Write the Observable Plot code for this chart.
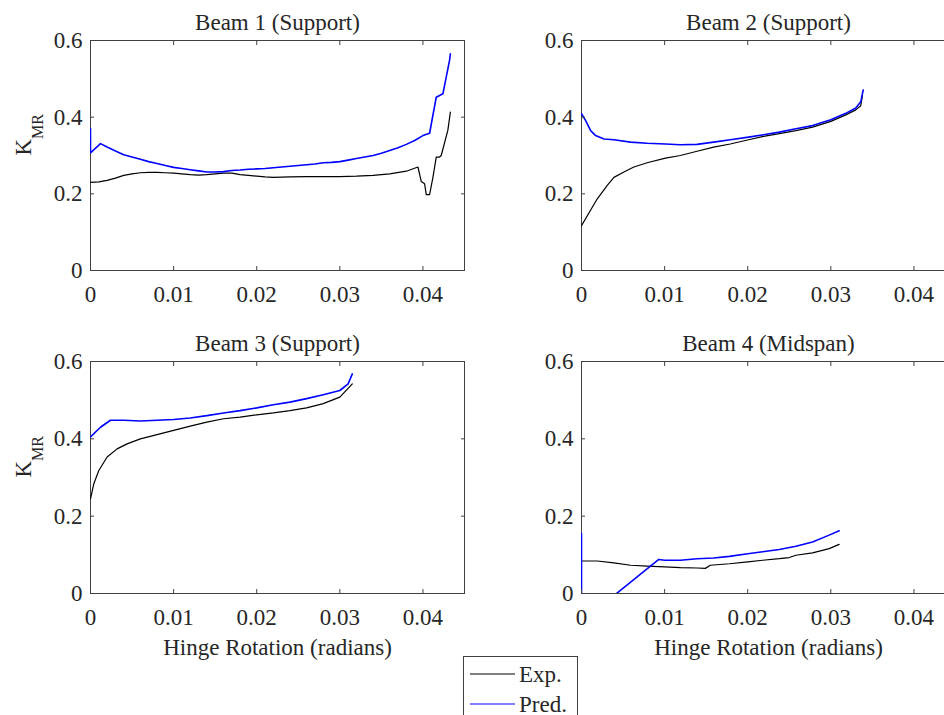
<!DOCTYPE html>
<html><head><meta charset="utf-8">
<script src="https://cdn.jsdelivr.net/npm/d3@7"></script>
<script src="https://cdn.jsdelivr.net/npm/@observablehq/plot@0.6"></script>
<style>
html,body{margin:0;padding:0;background:#fff;overflow:hidden;}
#wrap{position:relative;width:944px;height:715px;overflow:hidden;font-family:"Liberation Serif","Times New Roman",serif;color:#262626;}
.panel{position:absolute;}
.panel text{font-family:"Liberation Serif","Times New Roman",serif;}
#legend{position:absolute;left:463px;top:656px;width:113px;height:70px;border:1px solid #404040;background:#fff;z-index:5;}
</style></head><body><div id="wrap"></div>
<script>
// ---- data ----
const titles = ["Beam 1 (Support)", "Beam 2 (Support)", "Beam 3 (Support)", "Beam 4 (Midspan)"];
const xTicks = [0, 0.01, 0.02, 0.03, 0.04];
const yTicks = [0, 0.2, 0.4, 0.6];
const xLabel = "Hinge Rotation (radians)";
const yLabelMain = "K";
const yLabelSub = "MR";
const seriesNames = ["Exp.", "Pred."];
const seriesColors = ["#000000", "#0000ff"];

const beam1Exp = [[0,0.230],[0.001,0.231],[0.002,0.235],[0.003,0.241],[0.004,0.248],[0.005,0.252],[0.006,0.255],[0.007,0.256],[0.008,0.256],[0.009,0.255],[0.010,0.254],[0.011,0.252],[0.012,0.250],[0.013,0.249],[0.014,0.250],[0.015,0.252],[0.016,0.254],[0.017,0.254],[0.018,0.250],[0.019,0.248],[0.020,0.246],[0.021,0.244],[0.022,0.243],[0.024,0.244],[0.026,0.245],[0.028,0.245],[0.030,0.245],[0.032,0.246],[0.034,0.248],[0.036,0.252],[0.038,0.259],[0.0394,0.270],[0.0398,0.232],[0.0402,0.226],[0.0404,0.198],[0.0408,0.198],[0.0412,0.243],[0.0416,0.296],[0.0420,0.296],[0.0422,0.300],[0.0430,0.366],[0.0433,0.413]];
const beam1Pred = [[0,0.370],[0,0.307],[0.0012,0.331],[0.002,0.322],[0.003,0.312],[0.004,0.302],[0.005,0.296],[0.006,0.290],[0.007,0.284],[0.008,0.279],[0.009,0.274],[0.010,0.269],[0.011,0.266],[0.012,0.263],[0.013,0.260],[0.014,0.257],[0.015,0.257],[0.016,0.258],[0.017,0.261],[0.018,0.262],[0.019,0.264],[0.020,0.265],[0.021,0.266],[0.022,0.268],[0.023,0.270],[0.024,0.272],[0.025,0.274],[0.026,0.276],[0.027,0.278],[0.028,0.281],[0.029,0.282],[0.030,0.284],[0.031,0.288],[0.032,0.292],[0.033,0.296],[0.034,0.300],[0.035,0.306],[0.036,0.313],[0.037,0.320],[0.038,0.329],[0.039,0.339],[0.040,0.352],[0.0408,0.358],[0.0416,0.452],[0.0424,0.461],[0.0432,0.548],[0.0433,0.565]];

const beam2Exp = [[0,0.117],[0.0007,0.143],[0.0019,0.187],[0.0031,0.222],[0.0039,0.243],[0.0051,0.257],[0.0063,0.270],[0.0079,0.281],[0.0101,0.293],[0.0119,0.300],[0.0139,0.311],[0.0159,0.322],[0.0179,0.330],[0.0201,0.341],[0.0219,0.350],[0.0238,0.357],[0.0258,0.365],[0.0278,0.374],[0.0300,0.389],[0.0318,0.406],[0.0330,0.419],[0.0336,0.430],[0.0338,0.457]];
const beam2Pred = [[0,0.409],[0.0005,0.391],[0.0011,0.365],[0.0017,0.352],[0.0027,0.343],[0.0039,0.341],[0.0059,0.335],[0.0079,0.332],[0.0101,0.330],[0.0119,0.328],[0.0139,0.329],[0.0159,0.335],[0.0179,0.341],[0.0201,0.348],[0.0219,0.354],[0.0238,0.361],[0.0258,0.370],[0.0278,0.378],[0.0300,0.393],[0.0318,0.410],[0.0330,0.424],[0.0336,0.440],[0.0339,0.471]];

const beam3Exp = [[0,0.245],[0.0004,0.284],[0.001,0.318],[0.002,0.353],[0.0032,0.374],[0.0044,0.387],[0.006,0.400],[0.008,0.411],[0.010,0.422],[0.012,0.433],[0.014,0.443],[0.016,0.452],[0.018,0.456],[0.020,0.462],[0.022,0.467],[0.024,0.473],[0.026,0.480],[0.028,0.491],[0.030,0.508],[0.0315,0.542]];
const beam3Pred = [[0,0.405],[0.0012,0.430],[0.0024,0.448],[0.004,0.448],[0.006,0.446],[0.008,0.448],[0.010,0.450],[0.012,0.454],[0.014,0.460],[0.016,0.467],[0.018,0.473],[0.020,0.480],[0.022,0.488],[0.024,0.495],[0.026,0.504],[0.028,0.514],[0.030,0.525],[0.031,0.542],[0.0315,0.568]];

const beam4Exp = [[0,0.084],[0.0019,0.084],[0.0039,0.079],[0.0059,0.073],[0.0079,0.071],[0.010,0.069],[0.0119,0.067],[0.0139,0.066],[0.0149,0.065],[0.0155,0.073],[0.0178,0.077],[0.020,0.082],[0.0218,0.086],[0.0238,0.090],[0.025,0.093],[0.0258,0.099],[0.0278,0.105],[0.0298,0.116],[0.031,0.127]];
const beam4Pred = [[0,0.155],[0,-0.073],[0.0093,0.088],[0.010,0.086],[0.0119,0.086],[0.0139,0.090],[0.0159,0.092],[0.0178,0.096],[0.020,0.103],[0.0218,0.108],[0.0238,0.114],[0.0258,0.122],[0.0278,0.133],[0.0298,0.151],[0.031,0.162]];

const expSeries = [beam1Exp, beam2Exp, beam3Exp, beam4Exp];
const predSeries = [beam1Pred, beam2Pred, beam3Pred, beam4Pred];

// ---- layout ----
const layout = [
  {left: 0,   top: 0,   height: 320, mb: 50, yLab: true,  xLab: false},
  {left: 491, top: 0,   height: 320, mb: 50, yLab: false, xLab: false},
  {left: 0,   top: 321, height: 345, mb: 73, yLab: true,  xLab: true},
  {left: 491, top: 321, height: 345, mb: 73, yLab: false, xLab: true}
];

const wrap = document.getElementById("wrap");
const axisColor = "#404040";
const textColor = "#262626";
const fontFamily = '"Liberation Serif","Times New Roman",serif';

layout.forEach((cfg, i) => {
  const marks = [
    Plot.frame({stroke: axisColor, strokeWidth: 1}),
    Plot.line(expSeries[i], {x: d => d[0], y: d => d[1], stroke: seriesColors[0], strokeWidth: 1.2, clip: true}),
    Plot.line(predSeries[i], {x: d => d[0], y: d => d[1], stroke: seriesColors[1], strokeWidth: 1.6, clip: true}),
    Plot.axisX(xTicks, {anchor: "bottom", tickSize: -4, tickPadding: 19, tickFormat: d => String(d), label: null, stroke: axisColor, fill: textColor, fontFamily, fontSize: 23}),
    Plot.axisX(xTicks, {anchor: "top", tickSize: -4, tickFormat: () => "", label: null, stroke: axisColor}),
    Plot.axisY(yTicks, {anchor: "left", tickSize: -4, tickPadding: 12, tickFormat: d => String(d), label: null, stroke: axisColor, fill: textColor, fontFamily, fontSize: 23}),
    Plot.axisY(yTicks, {anchor: "right", tickSize: -4, tickFormat: () => "", label: null, stroke: axisColor}),
    Plot.text([titles[i]], {text: d => d, frameAnchor: "top", dy: -18, lineAnchor: "middle", fontSize: 23, fontFamily, fill: textColor})
  ];
  if (cfg.xLab) marks.push(Plot.text([xLabel], {text: d => d, frameAnchor: "bottom", dy: 54, lineAnchor: "middle", fontSize: 23, fontFamily, fill: textColor}));
  if (cfg.yLab) marks.push(Plot.text([yLabelMain], {text: d => d, frameAnchor: "left", dx: -67, rotate: -90, lineAnchor: "middle", fontSize: 23, fontFamily, fill: textColor}));
  const chart = Plot.plot({
    width: 472,
    height: cfg.height,
    marginLeft: 90, marginRight: 8, marginTop: 40, marginBottom: cfg.mb,
    x: {domain: [0, 0.045]},
    y: {domain: [0, 0.6]},
    style: {fontFamily, fontSize: "23px", color: textColor, background: "transparent", overflow: "visible"},
    marks
  });
  chart.classList.add("panel");
  chart.style.left = cfg.left + "px";
  chart.style.top = cfg.top + "px";
  if (cfg.yLab) {
    d3.select(chart).selectAll("text").filter(function() { return this.textContent === yLabelMain; })
      .append("tspan").attr("dy", "12").attr("font-size", "16").text(yLabelSub);
  }
  wrap.appendChild(chart);
});

// ---- legend ----
const leg = d3.select(wrap).append("div").attr("id", "legend");
const lsvg = leg.append("svg").attr("width", 113).attr("height", 70).style("font-family", fontFamily);
seriesNames.forEach((name, i) => {
  const y = 17 + i * 30;
  lsvg.append("line").attr("x1", 6).attr("x2", 51).attr("y1", y).attr("y2", y).attr("stroke", seriesColors[i]).attr("stroke-width", 1.2);
  lsvg.append("text").attr("x", 55).attr("y", y + 8).attr("font-size", 23).attr("fill", textColor).text(name);
});
</script>
</body></html>
